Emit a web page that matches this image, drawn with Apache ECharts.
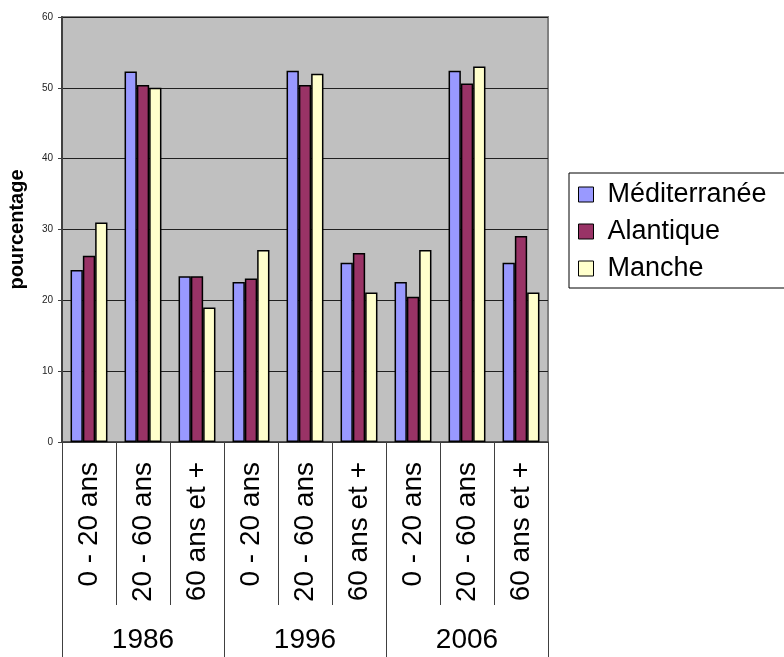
<!DOCTYPE html>
<html>
<head>
<meta charset="utf-8">
<script src="https://cdn.jsdelivr.net/npm/echarts@6/dist/echarts.min.js"></script>
<style>
  html, body { margin: 0; padding: 0; background: #fff; }
  #chart { width: 784px; height: 657px; }
</style>
</head>
<body>
<div id="chart"></div>
<script>
// Age groups repeated for each census year
const years = ['1986', '1996', '2006'];
const ageGroups = ['0 - 20 ans', '20 - 60 ans', '60 ans et +'];
const categories = [
  '0 - 20 ans', '20 - 60 ans', '60 ans et +',
  '0 - 20 ans', '20 - 60 ans', '60 ans et +',
  '0 - 20 ans', '20 - 60 ans', '60 ans et +'
];

// Share of population (%) by coast
const mediterranee = [24.3, 52.3, 23.4, 22.6, 52.4, 25.3, 22.6, 52.4, 25.3];
const atlantique   = [26.3, 50.4, 23.4, 23.1, 50.4, 26.7, 20.5, 50.6, 29.1];
const manche       = [31.0, 50.0, 19.0, 27.1, 52.0, 21.1, 27.1, 53.0, 21.1];

const yTicks = { min: 0, max: 60, interval: 10 };

const FONT = 'Liberation Sans, Arial, sans-serif';

function barSeries(name, data, color) {
  return {
    name: name,
    type: 'bar',
    data: data,
    barWidth: 12.3,
    barGap: '0%',
    itemStyle: { color: color, borderColor: '#000', borderWidth: 1.5 }
  };
}

const chart = echarts.init(document.getElementById('chart'));
chart.setOption({
  animation: false,
  backgroundColor: '#fff',
  textStyle: { fontFamily: FONT },
  grid: {
    left: 62, top: 17, right: 236, bottom: 215,
    outerBoundsMode: 'none',
    containLabel: false,
    show: true,
    backgroundColor: '#C0C0C0',
    borderColor: '#808080',
    borderWidth: 2
  },
  legend: {
    orient: 'vertical',
    left: 569, top: 173,
    padding: [8, 60, 6, 9],
    itemGap: 10,
    itemWidth: 15, itemHeight: 15,
    icon: 'rect',
    borderColor: '#000', borderWidth: 1,
    backgroundColor: '#fff',
    itemStyle: { borderColor: '#000', borderWidth: 1 },
    textStyle: { fontSize: 27, color: '#000', fontFamily: FONT, padding: [0, 0, 0, 9] },
    data: ['Méditerranée', 'Alantique', 'Manche']
  },
  xAxis: [
    {
      type: 'category',
      data: categories,
      position: 'bottom',
      axisLine: { show: true, lineStyle: { color: '#404040', width: 1.5 } },
      axisTick: { show: true, length: 163, lineStyle: { color: '#404040', width: 1 } },
      axisLabel: {
        rotate: 90, margin: 20, fontSize: 28, color: '#000', fontFamily: FONT,
        interval: 0
      }
    },
    {
      type: 'category',
      data: years,
      position: 'bottom',
      axisLine: { show: false },
      axisTick: { show: true, length: 215, lineStyle: { color: '#404040', width: 1 } },
      axisLabel: { margin: 184, fontSize: 28, color: '#000', fontFamily: FONT, interval: 0 }
    }
  ],
  yAxis: {
    type: 'value',
    min: yTicks.min, max: yTicks.max, interval: yTicks.interval,
    name: 'pourcentage',
    nameLocation: 'middle',
    nameGap: 35,
    nameTextStyle: { fontSize: 20, fontWeight: 'bold', color: '#000', fontFamily: FONT },
    axisLine: { show: true, lineStyle: { color: '#404040', width: 2 } },
    axisTick: { show: true, length: 4, lineStyle: { color: '#404040' } },
    axisLabel: { fontSize: 10, color: '#222', margin: 9, fontFamily: FONT },
    splitLine: { show: true, lineStyle: { color: '#202020', width: 1 } }
  },
  series: [
    barSeries('Méditerranée', mediterranee, '#9999FF'),
    barSeries('Alantique', atlantique, '#993366'),
    barSeries('Manche', manche, '#FFFFCC')
  ]
});
</script>
</body>
</html>
